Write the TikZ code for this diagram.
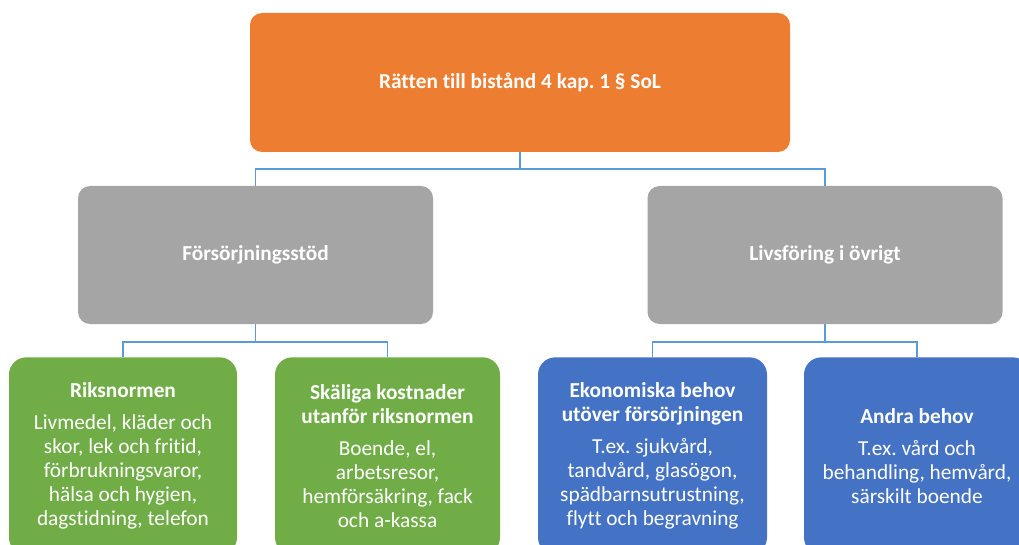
\documentclass[tikz,border=0pt]{standalone}
\usepackage{fontspec}
\setmainfont{Carlito}[Ligatures=NoCommon]
\frenchspacing
\definecolor{toporange}{HTML}{ED7D31}
\definecolor{midgray}{HTML}{A5A5A5}
\definecolor{leafgreen}{HTML}{70AD47}
\definecolor{leafblue}{HTML}{4472C4}
\definecolor{connblue}{HTML}{5B9BD5}
\tikzset{
  box/.style={text=white, align=center, inner sep=0pt, rounded corners=9pt},
  topbox/.style={box, fill=toporange, minimum width=405pt, minimum height=104.25pt, font=\fontsize{16}{19}\selectfont\bfseries},
  midbox/.style={box, fill=midgray, minimum width=266.25pt, minimum height=103.5pt, font=\fontsize{16}{19}\selectfont\bfseries},
  leafbox/.style={box, rounded corners=13pt, minimum height=142.5pt, font=\fontsize{16}{18}\selectfont},
  conn/.style={connblue, line width=0.8pt},
}
\newcommand{\hd}[1]{{\fontsize{16}{17.25}\selectfont\bfseries #1}}
\begin{document}
\begin{tikzpicture}[x=0.75pt, y=-0.75pt]
  \clip (0,0) rectangle (1019,545);
  \fill[white] (0,0) rectangle (1019,545);
  % top level
  \node[topbox] (ratt) at (520,82.5) {Rätten till bistånd 4 kap. 1 § SoL};
  % middle level
  \node[midbox] (forsorj) at (255.5,255) {Försörjningsstöd};
  \node[midbox] (livs) at (825,255) {Livsföring i övrigt};
  % leaves
  \node[leafbox, fill=leafgreen, minimum width=171pt, minimum height=148pt] (riks) at (123,456)
    {\hd{Riksnormen}\\[6pt]Livmedel, kläder och\\skor, lek och fritid,\\förbrukningsvaror,\\hälsa och hygien,\\dagstidning, telefon};
  \node[leafbox, fill=leafgreen, minimum width=168.75pt, minimum height=148pt] (skal) at (387.5,456)
    {\hd{Skäliga kostnader}\\\hd{utanför riksnormen}\\[6pt]Boende, el,\\arbetsresor,\\hemförsäkring, fack\\och a-kassa};
  \node[leafbox, fill=leafblue, minimum width=171.75pt, minimum height=148pt] (ekon) at (652.5,456)
    {\hd{Ekonomiska behov}\\\hd{utöver försörjningen}\\[6pt]T.ex.\ sjukvård,\\tandvård, glasögon,\\spädbarnsutrustning,\\flytt och begravning};
  \node[leafbox, fill=leafblue, minimum width=169.5pt, minimum height=148pt] (andra) at (917,456)
    {\hd{Andra behov}\\[6pt]T.ex.\ vård och\\behandling, hemvård,\\särskilt boende};
  % connectors
  \coordinate (j1) at (520,169);
  \coordinate (j2) at (255.5,342);
  \coordinate (j3) at (825,342);
  \draw[conn] (ratt.south) -- (j1) -| (forsorj.north);
  \draw[conn] (j1) -| (livs.north);
  \draw[conn] (forsorj.south) -- (j2) -| (riks.north);
  \draw[conn] (j2) -| (skal.north);
  \draw[conn] (livs.south) -- (j3) -| (ekon.north);
  \draw[conn] (j3) -| (andra.north);
\end{tikzpicture}
\end{document}
